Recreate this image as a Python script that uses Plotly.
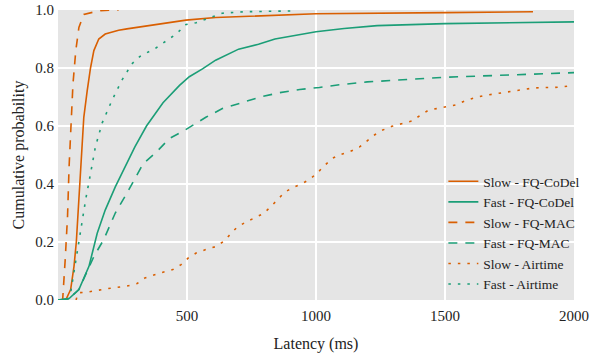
import plotly.graph_objects as go

ORANGE = "#d95f02"
GREEN = "#1b9e77"

slow_codel_x = [0, 30, 49, 62, 71, 81, 92, 100, 113, 126, 139, 158, 183, 214, 235, 267, 298, 330, 420, 496, 611, 930, 1000, 1500, 1841]
slow_codel_y = [0, 0, 0.036, 0.116, 0.2, 0.345, 0.516, 0.63, 0.72, 0.80, 0.86, 0.90, 0.917, 0.926, 0.930, 0.935, 0.939, 0.945, 0.956, 0.965, 0.974, 0.985, 0.987, 0.991, 0.994]

fast_codel_x = [0, 43, 81, 120, 152, 183, 222, 267, 298, 343, 407, 471, 509, 560, 611, 700, 777, 841, 918, 1000, 1109, 1237, 1500, 2000]
fast_codel_y = [0, 0.005, 0.036, 0.116, 0.23, 0.31, 0.39, 0.47, 0.528, 0.60, 0.68, 0.74, 0.77, 0.797, 0.827, 0.865, 0.882, 0.90, 0.913, 0.925, 0.936, 0.946, 0.953, 0.959]

slow_mac_x = [10, 18, 28, 37, 43, 49, 58, 69, 81, 100, 139, 164, 235]
slow_mac_y = [0, 0, 0.14, 0.29, 0.46, 0.60, 0.745, 0.86, 0.94, 0.985, 0.994, 0.998, 1.0]

fast_mac_x = [0, 43, 81, 120, 139, 177, 222, 267, 298, 330, 381, 432, 490, 509, 573, 637, 713, 784, 860, 937, 1013, 1090, 1198, 1500, 2000]
fast_mac_y = [0, 0.005, 0.036, 0.113, 0.15, 0.208, 0.30, 0.368, 0.42, 0.47, 0.51, 0.557, 0.585, 0.596, 0.63, 0.66, 0.68, 0.70, 0.715, 0.726, 0.733, 0.742, 0.752, 0.768, 0.784]

slow_air_x = [70, 78, 113, 190, 267, 305, 337, 375, 407, 445, 477, 505, 537, 573, 611, 642, 669, 694, 727, 762, 796, 824, 851, 878, 910, 946, 977, 1007, 1035, 1062, 1096, 1132, 1168, 1198, 1228, 1256, 1294, 1332, 1371, 1403, 1435, 1467, 1505, 1543, 1581, 1620, 1658, 1696, 1735, 1773, 1811, 1843, 1888, 1926, 1964, 2000]
slow_air_y = [0, 0.025, 0.027, 0.039, 0.048, 0.056, 0.076, 0.088, 0.096, 0.105, 0.122, 0.145, 0.163, 0.174, 0.184, 0.202, 0.227, 0.251, 0.268, 0.282, 0.298, 0.321, 0.346, 0.371, 0.388, 0.401, 0.417, 0.44, 0.465, 0.488, 0.502, 0.512, 0.527, 0.547, 0.57, 0.585, 0.599, 0.608, 0.617, 0.636, 0.654, 0.66, 0.667, 0.673, 0.688, 0.699, 0.706, 0.711, 0.718, 0.722, 0.727, 0.731, 0.733, 0.733, 0.736, 0.74]

fast_air_x = [0, 37, 49, 69, 88, 107, 126, 145, 171, 209, 247, 286, 318, 381, 458, 496, 535, 573, 637, 726, 916]
fast_air_y = [0, 0, 0.025, 0.14, 0.24, 0.345, 0.436, 0.528, 0.61, 0.688, 0.757, 0.814, 0.84, 0.87, 0.917, 0.95, 0.956, 0.968, 0.989, 0.994, 0.997]

x_ticks = [500, 1000, 1500, 2000]
y_ticks = [0.0, 0.2, 0.4, 0.6, 0.8, 1.0]

series = [
    ("Slow - FQ-CoDel", slow_codel_x, slow_codel_y, ORANGE, "solid"),
    ("Fast - FQ-CoDel", fast_codel_x, fast_codel_y, GREEN, "solid"),
    ("Slow - FQ-MAC", slow_mac_x, slow_mac_y, ORANGE, "9px,8px"),
    ("Fast - FQ-MAC", fast_mac_x, fast_mac_y, GREEN, "9px,8px"),
    ("Slow - Airtime", slow_air_x, slow_air_y, ORANGE, "2.5px,7px"),
    ("Fast - Airtime", fast_air_x, fast_air_y, GREEN, "2.5px,7px"),
]

FONT = "Liberation Serif"
fig = go.Figure()
for name, xs, ys, col, dash in series:
    fig.add_trace(go.Scatter(x=xs, y=ys, mode="lines", name=name,
                             line=dict(color=col, width=1.6, dash=dash)))

fig.update_layout(
    width=595, height=354,
    margin=dict(l=58, r=16, t=10, b=54),
    paper_bgcolor="white", plot_bgcolor="#e5e5e5",
    font=dict(family=FONT, size=15, color="#222222"),
    showlegend=True,
    legend=dict(x=1.022, xanchor="right", y=0.0, yanchor="bottom",
                bgcolor="rgba(0,0,0,0)", font=dict(size=13.5, family=FONT),
                itemwidth=30, tracegroupgap=0),
)
fig.update_xaxes(range=[0, 2000], tickvals=x_ticks, ticktext=[str(v) for v in x_ticks],
                 showgrid=True, gridcolor="white", gridwidth=1.8, zeroline=False,
                 showline=False, ticks="", automargin=False, ticklabelstandoff=5,
                 title=dict(text="Latency (ms)", font=dict(size=16), standoff=14),
                 tickfont=dict(size=15))
fig.update_yaxes(range=[0, 1], tickvals=y_ticks, ticktext=["%.1f" % v for v in y_ticks],
                 showgrid=True, gridcolor="white", gridwidth=1.8, zeroline=False,
                 showline=False, ticks="", automargin=False, ticklabelstandoff=3,
                 title=dict(text="Cumulative probability", font=dict(size=16), standoff=6),
                 tickfont=dict(size=15))

fig.write_html("out.html")
